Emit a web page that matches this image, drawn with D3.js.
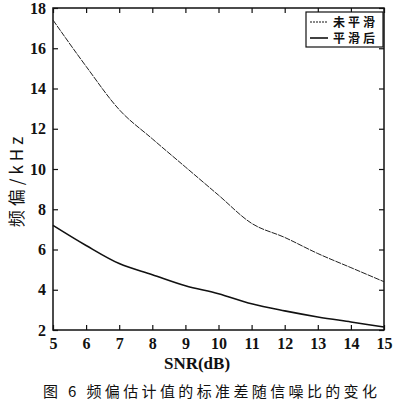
<!DOCTYPE html>
<html>
<head>
<meta charset="utf-8">
<script src="https://cdn.jsdelivr.net/npm/d3@7"></script>
<style>
  body { margin: 0; background: #fff; }
  .serif { font-family: "Liberation Serif", "Times New Roman", "DejaVu Serif", serif; }
  .cjk { font-family: "Noto Sans CJK SC", sans-serif; }
</style>
</head>
<body>
<svg width="400" height="404"></svg>
<script>
const snr = [5, 6, 7, 8, 9, 10, 11, 12, 13, 14, 15];
const unsmoothed = [17.4, 15.1, 12.95, 11.5, 10.1, 8.7, 7.3, 6.6, 5.8, 5.1, 4.4];
const smoothed = [7.2, 6.2, 5.3, 4.75, 4.2, 3.8, 3.3, 2.95, 2.65, 2.4, 2.15];
const xTicks = [5, 6, 7, 8, 9, 10, 11, 12, 13, 14, 15];
const yTicks = [2, 4, 6, 8, 10, 12, 14, 16, 18];
const legendLabels = ['未平滑', '平滑后'];

const svg = d3.select('svg');
const width = +svg.attr('width');
const height = +svg.attr('height');

const plotLeft = 53, plotRight = 384, plotTop = 8, plotBottom = 330;

const x = d3.scaleLinear().domain([5, 15]).range([plotLeft, plotRight]);
const y = d3.scaleLinear().domain([2, 18]).range([plotBottom, plotTop]);

// frame
svg.append('rect')
    .attr('x', plotLeft)
    .attr('y', plotTop)
    .attr('width', plotRight - plotLeft)
    .attr('height', plotBottom - plotTop)
    .attr('fill', 'none')
    .attr('stroke', '#111')
    .attr('stroke-width', 1.5);

// inward ticks, all four sides
const tickLen = 5;
const styleLabels = g => g.selectAll('text')
    .attr('class', 'serif')
    .attr('font-size', 16)
    .attr('font-weight', 'bold')
    .attr('fill', '#111');

svg.append('g')
    .attr('transform', `translate(0, ${plotBottom})`)
    .call(d3.axisBottom(x).tickValues(xTicks).tickSizeInner(-tickLen).tickSizeOuter(0).tickPadding(8))
    .attr('font-family', null)
    .call(g => g.select('.domain').remove())
    .call(g => g.selectAll('line').attr('stroke', '#111').attr('stroke-width', 1.2))
    .call(styleLabels);

svg.append('g')
    .attr('transform', `translate(0, ${plotTop})`)
    .call(d3.axisTop(x).tickValues(xTicks).tickSizeInner(-tickLen).tickSizeOuter(0).tickFormat(''))
    .call(g => g.select('.domain').remove())
    .call(g => g.selectAll('line').attr('stroke', '#111').attr('stroke-width', 1.2));

svg.append('g')
    .attr('transform', `translate(${plotLeft}, 0)`)
    .call(d3.axisLeft(y).tickValues(yTicks).tickSizeInner(-tickLen).tickSizeOuter(0).tickPadding(7))
    .attr('font-family', null)
    .call(g => g.select('.domain').remove())
    .call(g => g.selectAll('line').attr('stroke', '#111').attr('stroke-width', 1.2))
    .call(styleLabels);

svg.append('g')
    .attr('transform', `translate(${plotRight}, 0)`)
    .call(d3.axisRight(y).tickValues(yTicks).tickSizeInner(-tickLen).tickSizeOuter(0).tickFormat(''))
    .call(g => g.select('.domain').remove())
    .call(g => g.selectAll('line').attr('stroke', '#111').attr('stroke-width', 1.2));

// curves
const line = d3.line()
    .x((d, i) => x(snr[i]))
    .y(d => y(d))
    .curve(d3.curveMonotoneX);

svg.append('path')
    .datum(unsmoothed)
    .attr('d', line)
    .attr('fill', 'none')
    .attr('stroke', '#222')
    .attr('stroke-width', 1)
    .attr('stroke-dasharray', '6,1');

svg.append('path')
    .datum(smoothed)
    .attr('d', line)
    .attr('fill', 'none')
    .attr('stroke', '#111')
    .attr('stroke-width', 1.6);

// legend
const legendG = svg.append('g')
    .attr('transform', 'translate(306, 12)');

legendG.append('rect')
    .attr('width', 77)
    .attr('height', 35)
    .attr('fill', '#fff')
    .attr('stroke', '#111')
    .attr('stroke-width', 1.2);

legendLabels.forEach((label, i) => {
    const ly = 10 + i * 16;
    legendG.append('line')
        .attr('x1', 4)
        .attr('x2', 22)
        .attr('y1', ly)
        .attr('y2', ly)
        .attr('stroke', '#111')
        .attr('stroke-width', i === 0 ? 1 : 1.6)
        .attr('stroke-dasharray', i === 0 ? '2,1' : null);
    legendG.append('text')
        .attr('class', 'cjk')
        .attr('x', 27)
        .attr('y', ly + 5)
        .attr('font-size', 12)
        .attr('font-weight', 'bold')
        .attr('letter-spacing', 3)
        .attr('fill', '#111')
        .text(label);
});

// axis titles
svg.append('text')
    .attr('class', 'serif')
    .attr('x', 197)
    .attr('y', 369)
    .attr('text-anchor', 'middle')
    .attr('font-size', 17)
    .attr('font-weight', 'bold')
    .attr('fill', '#111')
    .text('SNR(dB)');

svg.append('text')
    .attr('class', 'cjk')
    .attr('transform', `translate(17, 180) rotate(-90)`)
    .attr('text-anchor', 'middle')
    .attr('dy', '0.35em')
    .attr('font-size', 17)
    .attr('letter-spacing', 4)
    .attr('fill', '#111')
    .text('频偏/kHz');

// caption
svg.append('text')
    .attr('class', 'cjk')
    .attr('x', 43)
    .attr('y', 397)
    .attr('font-size', 15)
    .attr('fill', '#111')
    .attr('textLength', 334)
    .attr('lengthAdjust', 'spacing')
    .text('图 6 频偏估计值的标准差随信噪比的变化');
</script>
</body>
</html>
